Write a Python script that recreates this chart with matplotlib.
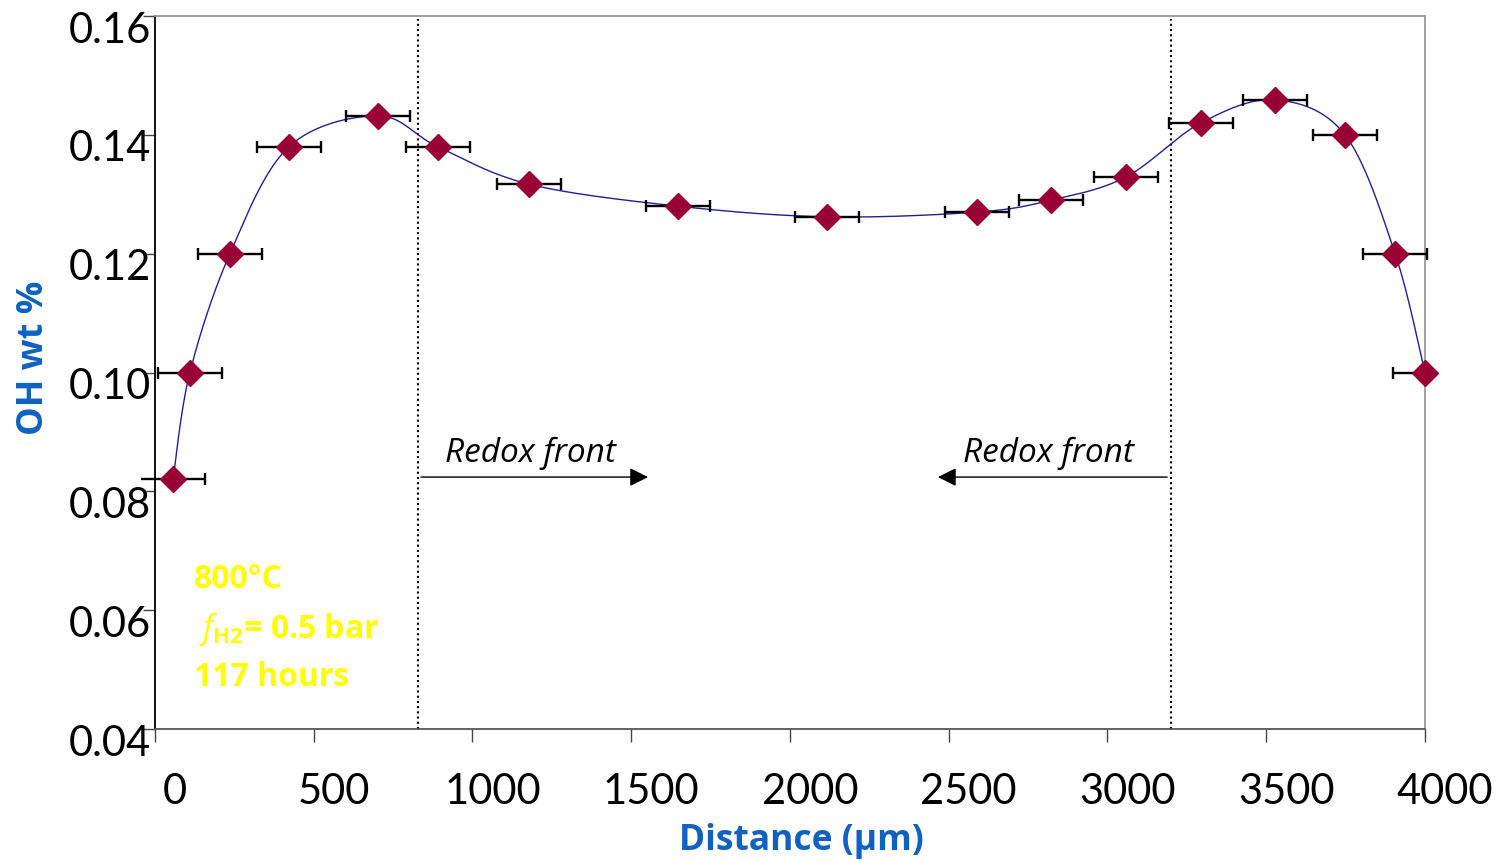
import numpy as np
import matplotlib
matplotlib.use("Agg")
import matplotlib.pyplot as plt
from matplotlib.transforms import ScaledTranslation

# OH profile across the crystal
distance = [57, 110, 236, 422, 702, 891, 1178, 1647, 2117, 2589, 2822, 3058, 3294, 3528, 3748, 3906, 4000]
oh_wt = [0.082, 0.100, 0.120, 0.138, 0.1432, 0.138, 0.1317, 0.128, 0.1262, 0.127, 0.129, 0.1329,
         0.142, 0.1459, 0.140, 0.120, 0.100]
err_low = [100] * 17
err_high = [100] * 16 + [0]

# Positions of the redox fronts (µm)
front_positions = [830, 3200]
x_ticks = [0, 500, 1000, 1500, 2000, 2500, 3000, 3500, 4000]
y_ticks = [0.04, 0.06, 0.08, 0.10, 0.12, 0.14, 0.16]

plt.rcParams['font.family'] = ['Lato', 'DejaVu Sans']
plt.rcParams['mathtext.fontset'] = 'custom'
plt.rcParams['mathtext.it'] = 'Open Sans:italic'
plt.rcParams['mathtext.rm'] = 'Open Sans:bold'
plt.rcParams['mathtext.bf'] = 'Open Sans:bold'

BOLD_FONT = ['Open Sans', 'DejaVu Sans']

fig = plt.figure(figsize=(15.06, 8.61), dpi=100)
ax = fig.add_axes([0.1029, 0.1533, 0.8433, 0.8281])

xmin, xmax, ymin, ymax = 0, 4000, 0.04, 0.16
ax.set_xlim(xmin, xmax)
ax.set_ylim(ymin, ymax)


def smooth_curve(xs, ys, n=40):
    """Catmull-Rom style Bezier smoothing in screen-proportional space."""
    sx, sy = 1270 / (xmax - xmin), 713 / (ymax - ymin)
    P = np.column_stack([(np.asarray(xs) - xmin) * sx, (np.asarray(ys) - ymin) * sy])
    P = np.vstack([P[0], P, P[-1]])
    out = []
    t = np.linspace(0, 1, n)[:, None]
    for i in range(1, len(P) - 2):
        p0, p1, p2, p3 = P[i - 1], P[i], P[i + 1], P[i + 2]
        c1 = p1 + (p2 - p0) / 6
        c2 = p2 - (p3 - p1) / 6
        seg = ((1 - t) ** 3) * p1 + 3 * ((1 - t) ** 2) * t * c1 + 3 * (1 - t) * t ** 2 * c2 + t ** 3 * p2
        out.append(seg)
    out = np.vstack(out)
    return out[:, 0] / sx + xmin, out[:, 1] / sy + ymin


cx, cy = smooth_curve(distance, oh_wt)
ax.plot(cx, cy, color='#1f1f99', lw=1.0, zorder=2)

# horizontal error bars; caps only where the bar end lies inside the plot
x = np.asarray(distance, float)
y = np.asarray(oh_wt, float)
lo = x - np.asarray(err_low)
hi = x + np.asarray(err_high)
ax.hlines(y, lo, hi, color='black', lw=1.7, zorder=3, clip_on=False)
cap_x = np.concatenate([lo, hi])
cap_y = np.concatenate([y, y])
keep = (cap_x >= xmin) & (np.concatenate([err_low, err_high]) > 0)
ax.plot(cap_x[keep], cap_y[keep], linestyle='none', marker='|', markersize=9,
        markeredgewidth=1.7, color='black', zorder=3, clip_on=False)

ax.plot(distance, oh_wt, linestyle='none', marker='D', markersize=13,
        color='#990033', zorder=4, clip_on=False)

for xf in front_positions:
    ax.plot([xf, xf], [ymin, 0.1595], color='black', lw=1.5, ls=(0, (1, 1.5)), zorder=1)

arrow_y = 0.0824
ax.annotate('', xy=(1553, arrow_y), xytext=(front_positions[0] + 8, arrow_y),
            arrowprops=dict(arrowstyle='-|>', color='black', lw=1.0, mutation_scale=28,
                            shrinkA=0, shrinkB=0))
ax.annotate('', xy=(2466, arrow_y), xytext=(front_positions[1] - 12, arrow_y),
            arrowprops=dict(arrowstyle='-|>', color='black', lw=1.0, mutation_scale=28,
                            shrinkA=0, shrinkB=0))
for xc in (1184, 2813):
    ax.text(xc, 0.0864, 'Redox front', style='italic', fontsize=24, ha='center', va='center',
            family=['Open Sans', 'DejaVu Sans'])

yellow = '#ffff00'
ax.text(122, 0.0652, '800°C', color=yellow, fontsize=23, fontweight='bold', va='center',
        family=BOLD_FONT)
ax.text(140, 0.0568, r'$\mathit{f}_{\mathrm{H2}}$= 0.5 bar', color=yellow, fontsize=23,
        fontweight='bold', va='center', family=BOLD_FONT)
ax.text(122, 0.0486, '117 hours', color=yellow, fontsize=23, fontweight='bold', va='center',
        family=BOLD_FONT)

ax.set_xticks(x_ticks)
ax.set_xticklabels([f'{v}' for v in x_ticks])
ax.set_yticks(y_ticks)
ax.set_yticklabels([f'{v:.2f}' for v in y_ticks])
ax.tick_params(axis='both', labelsize=30, direction='out', length=9, width=1)
ax.tick_params(axis='x', pad=23, color='#444444')
ax.tick_params(axis='y', pad=-6, color='#444444')

for lbl in ax.get_xticklabels():
    lbl.set_transform(lbl.get_transform() + ScaledTranslation(0.20, 0, fig.dpi_scale_trans))
for lbl in ax.get_yticklabels():
    lbl.set_transform(lbl.get_transform() + ScaledTranslation(0, -0.11, fig.dpi_scale_trans))

ax.spines['left'].set_color('black')
ax.spines['bottom'].set_color('#555555')
ax.spines['top'].set_color('#999999')
ax.spines['right'].set_color('#999999')
for s in ax.spines.values():
    s.set_linewidth(1.3)

blue = '#0f62c0'
ax.set_xlabel('Distance (µm)', fontsize=25.5, fontweight='bold', color=blue, family=BOLD_FONT)
ax.set_ylabel('OH wt %', fontsize=26, fontweight='bold', color=blue, family=BOLD_FONT)
ax.xaxis.set_label_coords(0.509, -0.132)
ax.yaxis.set_label_coords(-0.081, 0.52)

fig.savefig('out.png', dpi=100)
